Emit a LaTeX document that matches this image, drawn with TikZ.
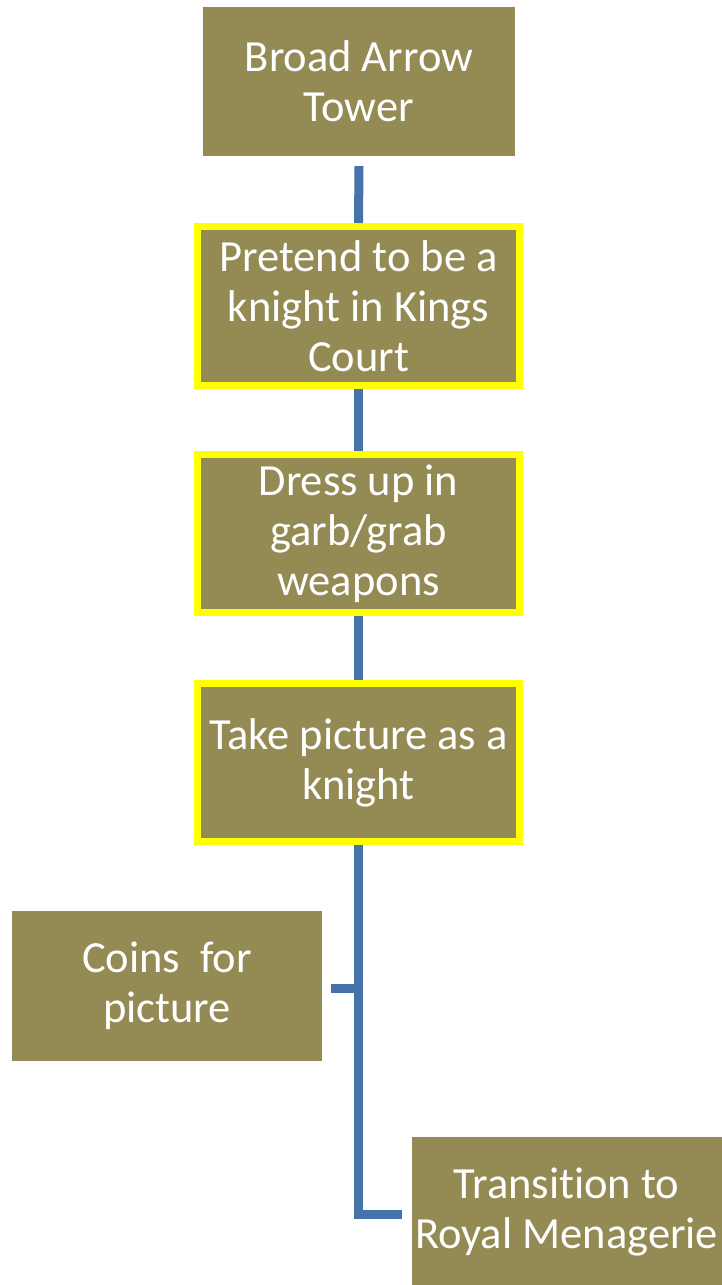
\documentclass[tikz,border=0pt]{standalone}
\usepackage{fontspec}
\setmainfont[RawFeature=-liga]{Carlito}
\definecolor{olivebox}{HTML}{948A54}
\definecolor{linkblue}{HTML}{4672AA}
\definecolor{hiyellow}{HTML}{FFFF00}
\begin{document}
\begin{tikzpicture}[x=1pt,y=-1pt,
  box/.style={fill=olivebox, text=white, align=center, inner sep=0pt,
    font=\fontsize{44.5}{50}\selectfont},
  hibox/.style={box, draw=hiyellow, line width=7pt},
  link/.style={draw=linkblue, line width=9pt}]
\useasboundingbox (0,0) rectangle (722,1285);
\begin{scope}
\clip (0,0) rectangle (722,1285);
\node[box, minimum width=312pt, minimum height=149pt] (b1) at (359,81.5) {Broad Arrow\\Tower};
\node[hibox, minimum width=322pt, minimum height=159pt] (b2) at (358.5,306) {Pretend to be a\\knight in Kings\\Court};
\node[hibox, minimum width=322pt, minimum height=158pt] (b3) at (358.5,533.5) {Dress up in\\garb/grab\\weapons};
\node[hibox, minimum width=322pt, minimum height=158pt] (b4) at (358.5,762.5) {Take picture as a\\knight};
\node[box, minimum width=310pt, minimum height=150pt] (b5) at (167,986) {Coins\ \ for\\picture};
\node[box, minimum width=310pt, minimum height=150pt] (b6) at (566.5,1212) {Transition to\\Royal Menagerie};
\coordinate (j1) at (358.5,988);
\coordinate (j2) at (358.5,1214);
\draw[link] ([yshift=-10pt]b1.south) -- (b2.north);
\draw[link] (b2.south) -- (b3.north);
\draw[link] (b3.south) -- (b4.north);
\draw[link] (b4.south) -- (j2) -- ([xshift=-9pt]b6.west |- j2);
\draw[link] (j1) -- ([xshift=9pt]b5.east |- j1);
\end{scope}
\end{tikzpicture}
\end{document}
